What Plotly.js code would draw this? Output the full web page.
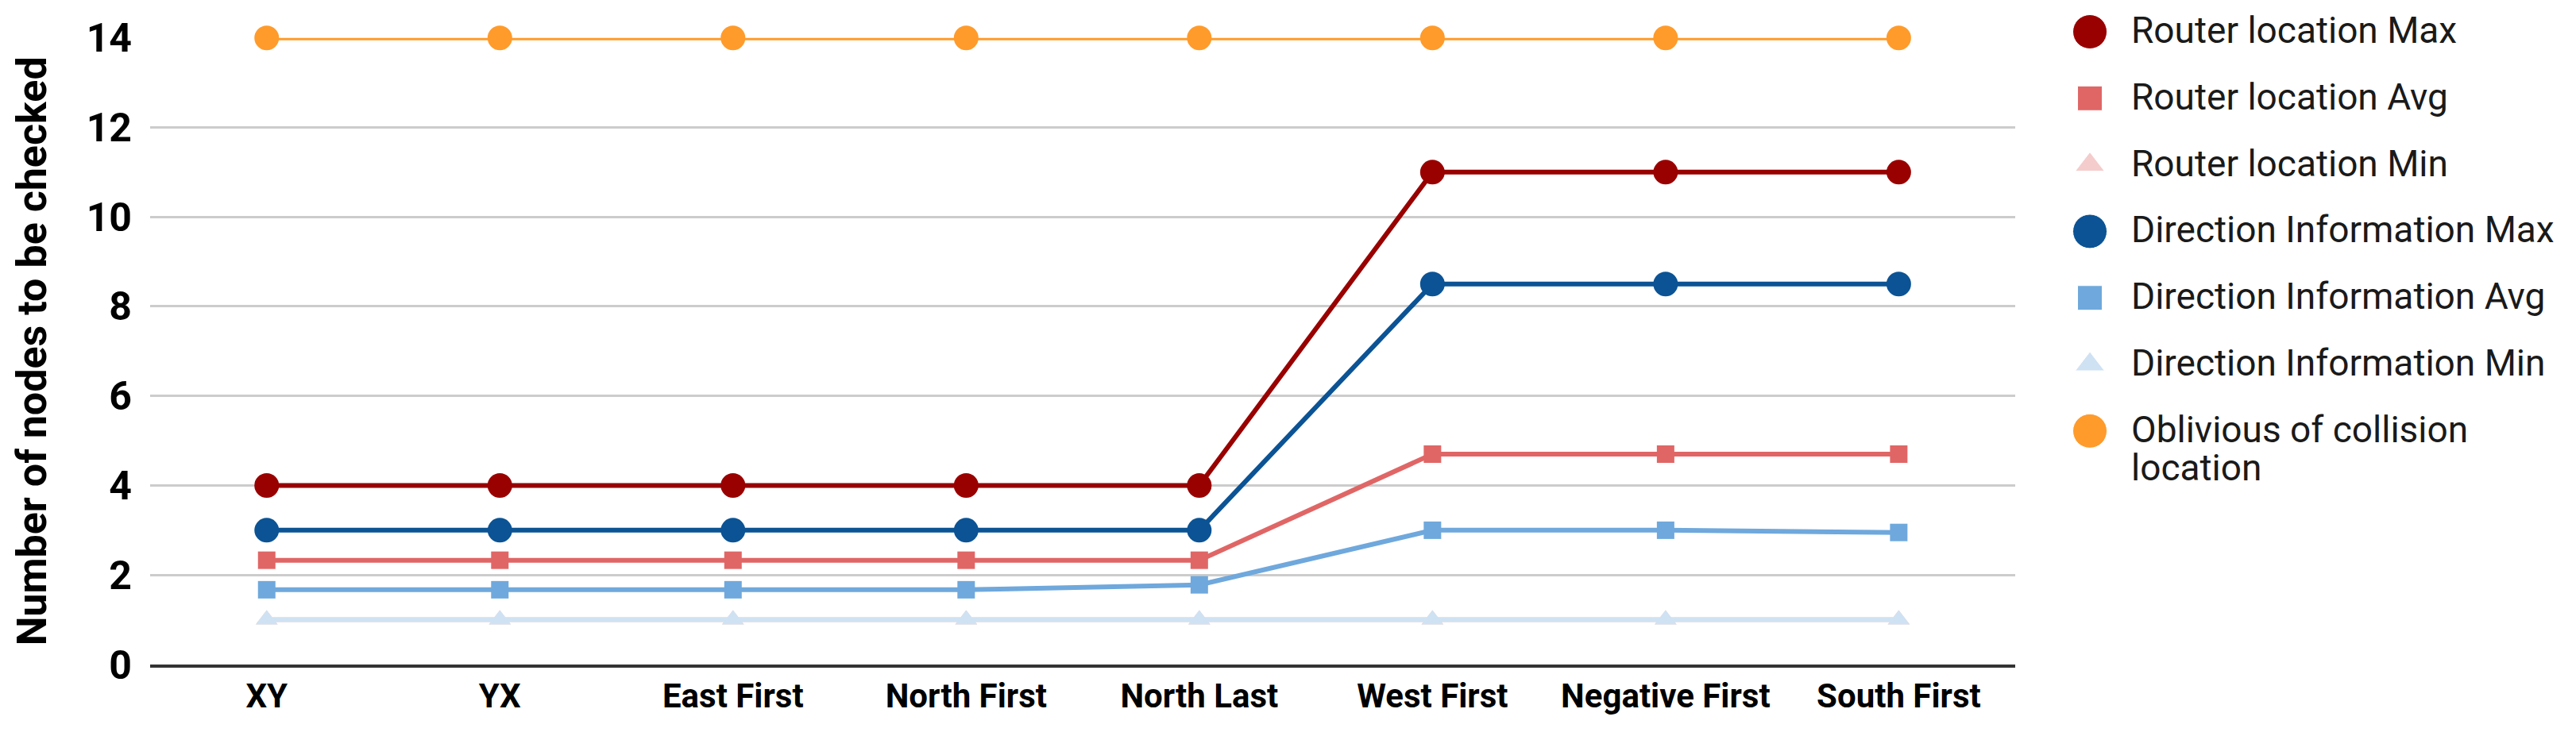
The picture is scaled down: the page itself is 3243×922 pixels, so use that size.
<!DOCTYPE html>
<html><head><meta charset="utf-8">
<script src="https://cdn.plot.ly/plotly-3.0.1.min.js"></script>
<style>html,body{margin:0;padding:0;background:#fff;} #chart{width:3243px;height:922px;}</style>
</head><body><div id="chart"></div>
<script>
const categories = ['XY','YX','East First','North First','North Last','West First','Negative First','South First'];
const routerMax = [4,4,4,4,4,11,11,11];
const routerAvg = [2.33,2.33,2.33,2.33,2.33,4.7,4.7,4.7];
const routerMin = [1,1,1,1,1,1,1,1];
const directionMax = [3,3,3,3,3,8.5,8.5,8.5];
const directionAvg = [1.67,1.67,1.67,1.67,1.78,3.0,3.0,2.95];
const directionMin = [1,1,1,1,1,1,1,1];
const oblivious = [14,14,14,14,14,14,14,14];
const seriesNames = ['Router location Max','Router location Avg','Router location Min','Direction Information Max','Direction Information Avg','Direction Information Min','Oblivious of collision<br>location'];
const seriesValues = [routerMax, routerAvg, routerMin, directionMax, directionAvg, directionMin, oblivious];
const yTicks = [0,2,4,6,8,10,12,14];

const colors = ['#990000','#e06666','#f4cccc','#0b5394','#6fa8dc','#cfe2f3','#ff9b2b'];
const symbols = ['circle','square','triangle-up','circle','square','triangle-up','circle'];
const plotSizes = {'circle':31,'square':22,'triangle-up':24};
const legendSizes = {'circle':43,'square':31,'triangle-up':32};

const traces = seriesValues.map((vals, i) => ({
  type: 'scatter', mode: 'lines+markers',
  x: categories, y: vals, name: seriesNames[i],
  line: {color: colors[i], width: 6},
  marker: {color: colors[i], symbol: symbols[i], size: plotSizes[symbols[i]], opacity: 1},
  cliponaxis: false, showlegend: false
}));

traces.push({
  type: 'scatter', mode: 'markers',
  x: seriesNames.map(() => 0), y: seriesNames.map((_, i) => i),
  xaxis: 'x2', yaxis: 'y2',
  marker: {color: colors, symbol: symbols, size: symbols.map(s => legendSizes[s]), opacity: 1},
  cliponaxis: false, showlegend: false, hoverinfo: 'skip'
});

const labelText = n => n.split('<br>').map(l => '<span style="font-size:46px">' + l + '</span>').join('<br>');
const annotations = seriesNames.map((n, i) => ({
  xref: 'x2', yref: 'y2', x: 0, y: i, xshift: 50, xanchor: 'left', yanchor: 'top', yshift: 31,
  text: labelText(n), showarrow: false, align: 'left',
  font: {family: 'Roboto', size: 37, color: '#1a1a1a'}
}));

const layout = {
  width: 3243, height: 922,
  margin: {l: 189, r: 10, t: 10, b: 85},
  paper_bgcolor: '#ffffff', plot_bgcolor: '#ffffff',
  showlegend: false,
  xaxis: {
    domain: [0, 0.7714], type: 'category', range: [-0.5, 7.5],
    showgrid: false, zeroline: false,
    showline: true, linecolor: '#333333', linewidth: 3.5,
    ticks: '', ticklabelstandoff: 0,
    tickfont: {family: 'Roboto', size: 42, color: '#000000', weight: 'bold'}
  },
  yaxis: {
    domain: [0, 0.9544],
    range: [0, 14], tickvals: yTicks, ticktext: yTicks.map(String),
    showgrid: true, gridcolor: '#cccccc', gridwidth: 3,
    zeroline: false, showline: false, ticks: '', ticklabelstandoff: 22,
    tickfont: {family: 'Roboto', size: 50, color: '#000000', weight: 'bold'},
    title: {text: 'Number of nodes to be checked', standoff: 33,
            font: {family: 'Roboto', size: 52, color: '#000000', weight: 'bold'}}
  },
  xaxis2: {domain: [0.78, 1], range: [-1.354, 12.04], visible: false, anchor: 'y2'},
  yaxis2: {domain: [0, 1], range: [9.51, -0.358], visible: false, anchor: 'x2'},
  annotations: annotations
};

Plotly.newPlot('chart', traces, layout, {staticPlot: true, displayModeBar: false});
</script></body></html>
